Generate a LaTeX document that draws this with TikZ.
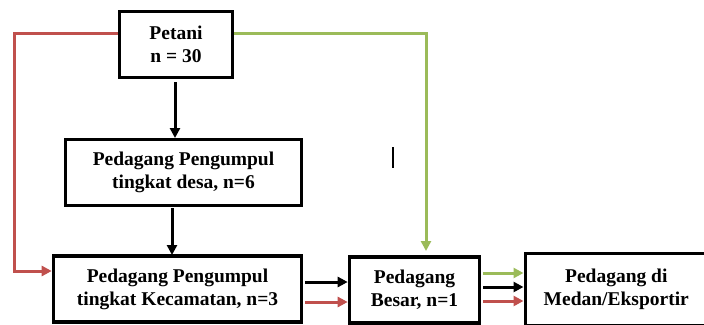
\documentclass[tikz,border=0pt]{standalone}
\usepackage{fontspec}
\setmainfont{Liberation Serif}
\usetikzlibrary{arrows.meta}
\definecolor{redline}{RGB}{192,80,77}
\definecolor{greenline}{RGB}{155,187,89}
\begin{document}
\begin{tikzpicture}[x=1pt,y=-1pt,
  box/.style={draw=black,line width=3.6pt,align=center,inner sep=0pt,
    font=\fontsize{19.5}{23}\selectfont\bfseries},
  arr/.style={line width=3pt,-{Triangle[length=10pt,width=10pt]}},
  blk/.style={arr,black},
  rd/.style={arr,redline},
  gr/.style={arr,greenline}]
\useasboundingbox (0,0) rectangle (704,324);
\node[box,minimum width=113pt,minimum height=66pt] (pet) at (176,44.5) {Petani\\n = 30};
\node[box,minimum width=236pt,minimum height=66pt] (desa) at (183.5,172.5) {Pedagang Pengumpul\\tingkat desa, n=6};
\node[box,minimum width=248pt,minimum height=66pt] (kec) at (177.5,289) {Pedagang Pengumpul\\tingkat Kecamatan, n=3};
\node[box,minimum width=130pt,minimum height=66pt] (bes) at (414.5,290) {Pedagang\\Besar, n=1};
\node[box,minimum width=182pt,minimum height=72pt,anchor=north west,yshift=0pt] (med) at (523.5,251.5) {\raisebox{5pt}{\begin{tabular}{@{}c@{}}Pedagang di\\Medan/Eksportir\end{tabular}}};

\draw[blk] (pet.south -| 175,0) ++(0,3) -- (175,138);
\draw[blk] (172,208) -- (172,255);
\draw[rd] (pet.west |- 0,33) -- (14,33) -- (14,271) -- (kec.west |- 0,271);
\draw[gr] (pet.east |- 0,33) -- (426,33) -- (426,251);
\draw[blk] (kec.east |- 0,282) ++(1.8,0) -- (bes.west |- 0,282);
\draw[rd] (kec.east |- 0,302) ++(1.8,0) -- (bes.west |- 0,302);
\draw[gr] (bes.east |- 0,273) ++(1.8,0) -- (med.west |- 0,273);
\draw[blk] (bes.east |- 0,287) ++(1.8,0) -- (med.west |- 0,287);
\draw[rd] (bes.east |- 0,301) ++(1.8,0) -- (med.west |- 0,301);
\draw[line width=1.2pt] (393,147) -- (393,168);
\end{tikzpicture}
\end{document}
